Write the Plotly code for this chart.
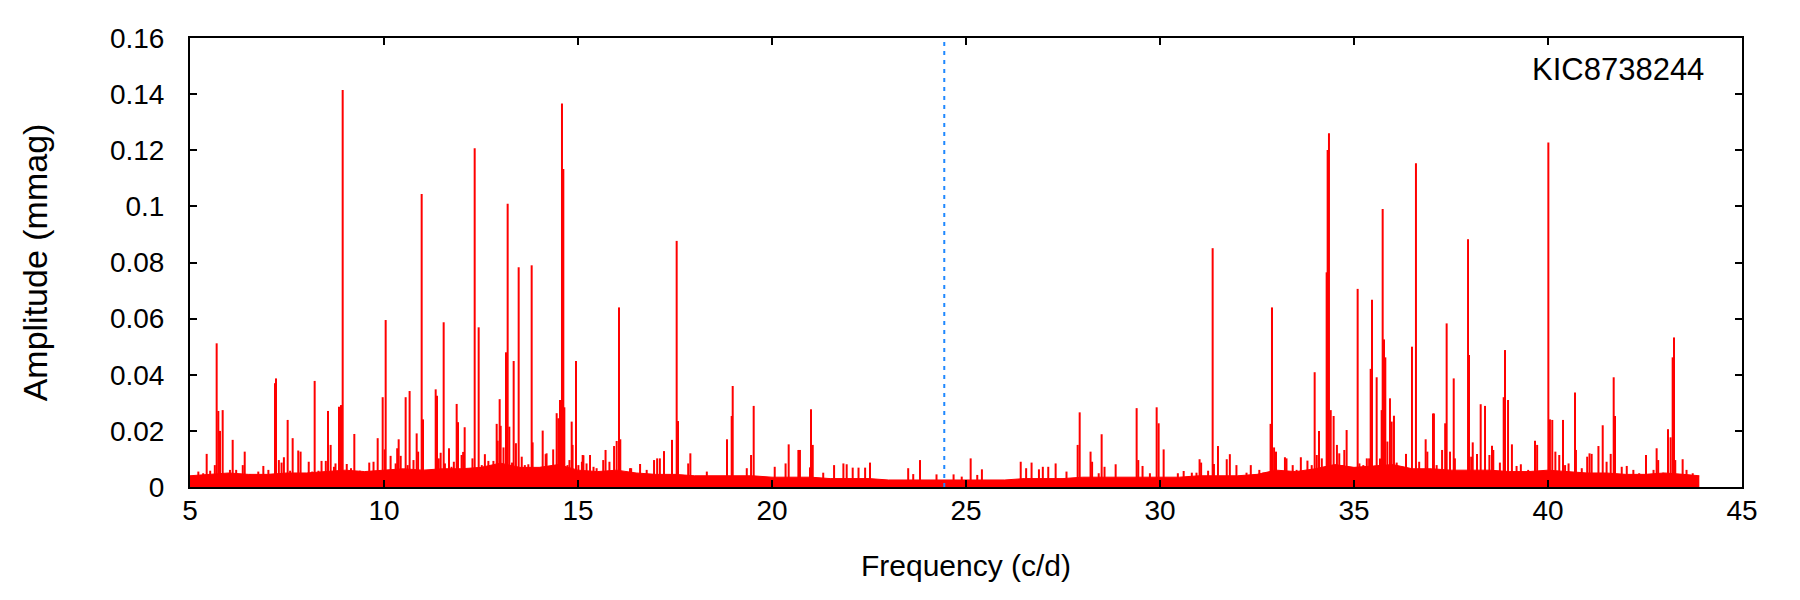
import plotly.graph_objects as go

# ---------------- data ----------------
# noise floor level (solid band at the bottom of the periodogram)
floor_freq = [5.0, 5.5, 6.0, 6.5, 7.0, 7.5, 8.0, 8.5, 9.0, 9.5, 10.0, 10.5, 11.0, 11.5, 12.0, 12.5,
              13.0, 13.5, 14.0, 14.5, 15.0, 15.5, 16.0, 16.5, 17.0, 17.5, 18.0, 18.5, 19.0, 19.5,
              20.0, 20.5, 21.0, 21.5, 22.0, 22.5, 23.0, 23.5, 24.0, 24.5, 25.0, 25.5, 26.0, 26.5,
              27.0, 27.5, 28.0, 28.5, 29.0, 29.5, 30.0, 30.5, 31.0, 31.5, 32.0, 32.5, 33.0, 33.5,
              34.0, 34.5, 35.0, 35.5, 36.0, 36.5, 37.0, 37.5, 38.0, 38.5, 39.0, 39.5, 40.0, 40.5,
              41.0, 41.5, 42.0, 42.5, 43.0, 43.5, 43.9]
floor_amp = [0.0040, 0.0045, 0.0050, 0.0045, 0.0045, 0.0050, 0.0050, 0.0055, 0.0060, 0.0055,
             0.0060, 0.0065, 0.0060, 0.0065, 0.0065, 0.0070, 0.0085, 0.0070, 0.0070, 0.0080,
             0.0060, 0.0055, 0.0060, 0.0050, 0.0045, 0.0045, 0.0040, 0.0040, 0.0040, 0.0040,
             0.0035, 0.0035, 0.0035, 0.0030, 0.0030, 0.0030, 0.0025, 0.0025, 0.0025, 0.0025,
             0.0025, 0.0025, 0.0025, 0.0030, 0.0030, 0.0030, 0.0035, 0.0035, 0.0035, 0.0035,
             0.0035, 0.0035, 0.0040, 0.0040, 0.0040, 0.0045, 0.0060, 0.0055, 0.0065, 0.0080,
             0.0070, 0.0075, 0.0080, 0.0065, 0.0065, 0.0060, 0.0060, 0.0060, 0.0055, 0.0055,
             0.0060, 0.0055, 0.0050, 0.0050, 0.0045, 0.0045, 0.0050, 0.0045, 0.0040]

# individual spectral peaks (frequency c/d, amplitude mmag)
peak_freq = [
    5.09, 5.215, 5.34, 5.43, 5.52, 5.64, 5.687, 5.73, 5.773, 5.842, 6.03, 6.10, 6.19, 6.36, 6.41,
    6.55, 6.76, 6.89, 7.02, 7.19, 7.216, 7.29, 7.36, 7.42, 7.517, 7.58, 7.646, 7.79, 7.85, 8.06,
    8.15, 8.213, 8.31, 8.39, 8.50, 8.557, 8.625, 8.71, 8.75, 8.84, 8.892, 8.935, 9.04, 9.15,
    9.235, 9.38, 9.62, 9.73, 9.837, 9.966, 10.02, 10.043, 10.09, 10.17, 10.30, 10.34, 10.378,
    10.43, 10.558, 10.61, 10.66, 10.76, 10.842, 10.88, 10.971, 11.005, 11.332, 11.366, 11.41,
    11.46, 11.538, 11.57, 11.675, 11.74, 11.80, 11.873, 11.907, 12.00, 12.04, 12.079, 12.13,
    12.28, 12.337, 12.44, 12.52, 12.60, 12.69, 12.82, 12.904, 12.93, 12.981, 13.007, 13.08,
    13.144, 13.187, 13.23, 13.30, 13.342, 13.40, 13.471, 13.55, 13.63, 13.72, 13.806, 13.83,
    13.93, 14.09, 14.167, 14.19, 14.28, 14.36, 14.45, 14.493, 14.536, 14.587, 14.622, 14.648,
    14.73, 14.78, 14.837, 14.86, 14.948, 15.01, 15.10, 15.12, 15.14, 15.22, 15.31, 15.40, 15.48,
    15.65, 15.71, 15.81, 15.93, 15.997, 16.057, 16.09, 16.34, 16.37, 16.60, 16.77, 16.96, 17.04,
    17.11, 17.217, 17.423, 17.543, 17.578, 17.84, 17.896, 18.32, 18.84, 18.961, 18.987, 19.35,
    19.46, 19.528, 20.07, 20.35, 20.43, 20.68, 20.72, 20.98, 21.005, 21.05, 21.32, 21.60, 21.84,
    21.925, 22.08, 22.23, 22.40, 22.526, 23.51, 23.64, 23.815, 24.24, 24.68, 24.89, 25.12, 25.29,
    25.41, 26.41, 26.55, 26.69, 26.88, 26.98, 27.12, 27.31, 27.59, 27.878, 27.93, 28.21, 28.25,
    28.42, 28.496, 28.57, 28.857, 29.398, 29.44, 29.55, 29.74, 29.914, 29.965, 30.094, 30.46,
    30.61, 30.82, 30.94, 31.02, 31.06, 31.24, 31.357, 31.39, 31.494, 31.72, 31.80, 31.97, 32.23,
    32.34, 32.56, 32.66, 32.85, 32.886, 32.94, 32.99, 33.22, 33.26, 33.42, 33.52, 33.63, 33.80,
    33.91, 33.986, 34.04, 34.098, 34.17, 34.295, 34.321, 34.355, 34.40, 34.475, 34.56, 34.62,
    34.71, 34.75, 34.81, 35.00, 35.094, 35.14, 35.24, 35.33, 35.39, 35.43, 35.464, 35.584, 35.67,
    35.713, 35.739, 35.773, 35.807, 35.86, 35.927, 35.97, 36.03, 36.10, 36.185, 36.27, 36.34,
    36.41, 36.494, 36.597, 36.68, 36.847, 36.89, 37.036, 37.06, 37.13, 37.27, 37.35, 37.388,
    37.475, 37.57, 37.60, 37.70, 37.82, 37.939, 37.964, 38.02, 38.06, 38.17, 38.265, 38.377,
    38.49, 38.557, 38.59, 38.76, 38.858, 38.892, 38.97, 39.07, 39.19, 39.30, 39.49, 39.665, 39.72,
    39.90, 40.009, 40.05, 40.11, 40.19, 40.29, 40.387, 40.44, 40.53, 40.696, 40.72, 40.87, 41.01,
    41.07, 41.125, 41.30, 41.41, 41.51, 41.616, 41.693, 41.727, 41.90, 42.03, 42.20, 42.35,
    42.526, 42.72, 42.80, 42.84, 42.97, 43.093, 43.16, 43.213, 43.248, 43.28, 43.47, 43.57,
    43.73, 43.83]
peak_amp = [
    0.0037, 0.0055, 0.0049, 0.0118, 0.0058, 0.0078, 0.0512, 0.0271, 0.0200, 0.0274, 0.0061,
    0.0168, 0.0061, 0.0078, 0.0126, 0.0046, 0.0055, 0.0075, 0.0061, 0.0370, 0.0387, 0.0096,
    0.0087, 0.0106, 0.0239, 0.0058, 0.0174, 0.0130, 0.0126, 0.0090, 0.0055, 0.0378, 0.0058,
    0.0093, 0.0093, 0.0271, 0.0150, 0.0072, 0.0084, 0.0286, 0.0292, 0.1415, 0.0082, 0.0067,
    0.0189, 0.0058, 0.0087, 0.0090, 0.0174, 0.0320, 0.0134, 0.0595, 0.0052, 0.0111, 0.0084,
    0.0138, 0.0170, 0.0111, 0.0320, 0.0078, 0.0342, 0.0096, 0.0191, 0.0126, 0.1044, 0.0241,
    0.0348, 0.0325, 0.0102, 0.0122, 0.0587, 0.0084, 0.0138, 0.0072, 0.0090, 0.0296, 0.0231,
    0.0114, 0.0125, 0.0213, 0.0063, 0.0102, 0.1207, 0.0569, 0.0078, 0.0117, 0.0093, 0.0093,
    0.0225, 0.0165, 0.0313, 0.0218, 0.0141, 0.0480, 0.1009, 0.0215, 0.0087, 0.0449, 0.0156,
    0.0783, 0.0108, 0.0078, 0.0081, 0.0790, 0.0159, 0.0061, 0.0201, 0.0117, 0.0120, 0.0061,
    0.0134, 0.0263, 0.0245, 0.0310, 0.1367, 0.1133, 0.0284, 0.0078, 0.0096, 0.0233, 0.0150,
    0.0449, 0.0078, 0.0090, 0.0114, 0.0113, 0.0084, 0.0114, 0.0072, 0.0067, 0.0096, 0.0132,
    0.0090, 0.0146, 0.0164, 0.0640, 0.0170, 0.0067, 0.0067, 0.0082, 0.0061, 0.0096, 0.0102,
    0.0102, 0.0128, 0.0168, 0.0877, 0.0235, 0.0084, 0.0120, 0.0055, 0.0170, 0.0253, 0.0360,
    0.0067, 0.0114, 0.0289, 0.0072, 0.0084, 0.0152, 0.0132, 0.0132, 0.0070, 0.0277, 0.0150,
    0.0051, 0.0078, 0.0084, 0.0081, 0.0069, 0.0069, 0.0069, 0.0087, 0.0067, 0.0046, 0.0096,
    0.0045, 0.0045, 0.0037, 0.0102, 0.0043, 0.0063, 0.0090, 0.0067, 0.0087, 0.0063, 0.0072,
    0.0072, 0.0084, 0.0055, 0.0150, 0.0266, 0.0126, 0.0090, 0.0049, 0.0188, 0.0072, 0.0081,
    0.0281, 0.0096, 0.0075, 0.0049, 0.0284, 0.0227, 0.0134, 0.0049, 0.0057, 0.0051, 0.0051,
    0.0099, 0.0087, 0.0058, 0.0851, 0.0082, 0.0146, 0.0099, 0.0117, 0.0078, 0.0051, 0.0078,
    0.0061, 0.0051, 0.0225, 0.0640, 0.0141, 0.0126, 0.0106, 0.0102, 0.0078, 0.0061, 0.0106,
    0.0094, 0.0078, 0.0409, 0.0114, 0.0200, 0.0102, 0.0765, 0.1201, 0.1261, 0.0274, 0.0253,
    0.0150, 0.0120, 0.0078, 0.0132, 0.0203, 0.0051, 0.0706, 0.0084, 0.0078, 0.0102, 0.0102,
    0.0421, 0.0667, 0.0391, 0.0102, 0.0274, 0.0991, 0.0526, 0.0462, 0.0162, 0.0316, 0.0233,
    0.0254, 0.0087, 0.0055, 0.0072, 0.0118, 0.0051, 0.0500, 0.1154, 0.0090, 0.0170, 0.0126,
    0.0262, 0.0262, 0.0078, 0.0132, 0.0227, 0.0583, 0.0126, 0.0387, 0.0102, 0.0051, 0.0051,
    0.0883, 0.0470, 0.0108, 0.0159, 0.0118, 0.0295, 0.0289, 0.0114, 0.0147, 0.0132, 0.0087,
    0.0320, 0.0488, 0.0310, 0.0152, 0.0075, 0.0081, 0.0061, 0.0165, 0.0150, 0.0058, 0.1228,
    0.0241, 0.0239, 0.0126, 0.0114, 0.0239, 0.0078, 0.0084, 0.0337, 0.0132, 0.0067, 0.0108,
    0.0120, 0.0118, 0.0146, 0.0220, 0.0090, 0.0118, 0.0391, 0.0253, 0.0072, 0.0075, 0.0061,
    0.0049, 0.0114, 0.0061, 0.0138, 0.0096, 0.0051, 0.0206, 0.0177, 0.0462, 0.0533, 0.0096,
    0.0099, 0.0061, 0.0049, 0.0039]

marker_freq = 24.44          # dotted vertical marker
star_label = "KIC8738244"

x_ticks = [5, 10, 15, 20, 25, 30, 35, 40, 45]
y_ticks = [0, 0.02, 0.04, 0.06, 0.08, 0.1, 0.12, 0.14, 0.16]
y_tick_text = ["0", "0.02", "0.04", "0.06", "0.08", "0.1", "0.12", "0.14", "0.16"]

# ---------------- figure ----------------
RED = "#ff0000"
FONT = "Liberation Sans, Arial, sans-serif"

# impulse (stick) coordinates built from the peak arrays
stick_x, stick_y = [], []
for f, a in zip(peak_freq, peak_amp):
    stick_x += [f, f, None]
    stick_y += [0, a, None]

fig = go.Figure()
fig.add_trace(go.Scatter(x=floor_freq, y=floor_amp, mode="lines", fill="tozeroy",
                         fillcolor=RED, line=dict(color=RED, width=1),
                         hoverinfo="skip", showlegend=False))
fig.add_trace(go.Scatter(x=stick_x, y=stick_y, mode="lines",
                         line=dict(color=RED, width=2), showlegend=False))
fig.add_trace(go.Scatter(x=[marker_freq, marker_freq], y=[y_ticks[0], y_ticks[-1]],
                         mode="lines", line=dict(color="#1e88ff", width=2, dash="4px,5px"),
                         showlegend=False))

fig.add_annotation(text=star_label, xref="paper", yref="paper", x=0.977, y=0.93,
                   xanchor="right", yanchor="middle", showarrow=False,
                   font=dict(family=FONT, size=31, color="black"))

axis_common = dict(showline=True, linecolor="black", linewidth=2, mirror="allticks",
                   ticks="inside", ticklen=7, tickwidth=2, tickcolor="black",
                   showgrid=False, zeroline=False,
                   tickfont=dict(family=FONT, size=28, color="black"))

fig.update_layout(
    width=1800, height=600,
    margin=dict(l=190, r=58, t=38, b=113),
    paper_bgcolor="white", plot_bgcolor="white",
    font=dict(family=FONT, color="black"),
    xaxis=dict(range=[5, 45], tickvals=x_ticks, ticklabelstandoff=-3,
               title=dict(text="Frequency (c/d)", font=dict(family=FONT, size=30), standoff=30),
               **axis_common),
    yaxis=dict(range=[0, 0.16], tickvals=y_ticks, ticktext=y_tick_text, ticklabelstandoff=18,
               title=dict(text="Amplitude (mmag)", font=dict(family=FONT, size=34), standoff=52),
               **axis_common),
)

fig.write_html("out.html")
